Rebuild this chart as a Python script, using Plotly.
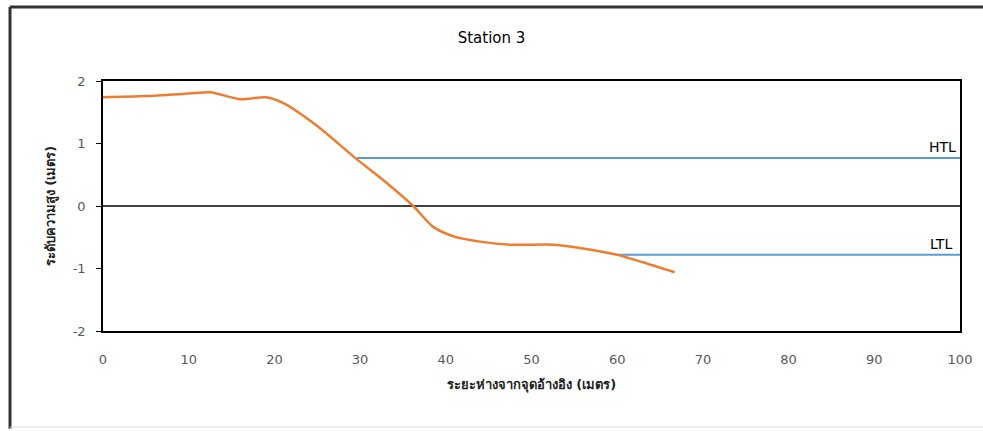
import plotly.graph_objects as go

# Beach profile, Station 3
distance = [0, 5, 10, 12.5, 16, 19, 21, 25, 29.6, 33, 36.2, 38.5, 41, 44, 47.5, 52.7, 56, 60, 63, 66.7]
elevation = [1.74, 1.76, 1.80, 1.82, 1.71, 1.74, 1.65, 1.28, 0.75, 0.38, 0.0, -0.33, -0.49, -0.57, -0.62, -0.62, -0.68, -0.78, -0.90, -1.06]

# Tide levels
htl_x = [29.6, 100]
htl_y = [0.77, 0.77]
ltl_x = [60, 100]
ltl_y = [-0.78, -0.78]

x_ticks = list(range(0, 101, 10))
y_ticks = [-2, -1, 0, 1, 2]
y_tick_text = ["-2", "-1", "0", "1", "2"]

FONT = "Tahoma, 'DejaVu Sans', 'Noto Sans', sans-serif"

fig = go.Figure()
fig.add_trace(go.Scatter(x=[0, 100], y=[0, 0], mode="lines",
                         line=dict(color="black", width=1.5), hoverinfo="skip", showlegend=False))
fig.add_trace(go.Scatter(x=htl_x, y=htl_y, mode="lines",
                         line=dict(color="#5B9BD5", width=2), showlegend=False))
fig.add_trace(go.Scatter(x=ltl_x, y=ltl_y, mode="lines",
                         line=dict(color="#5B9BD5", width=2), showlegend=False))
fig.add_trace(go.Scatter(x=distance, y=elevation, mode="lines",
                         line=dict(color="#ED7D31", width=2.5, shape="spline", smoothing=0.7),
                         showlegend=False))

fig.add_annotation(x=100, y=htl_y[0], text="HTL", showarrow=False, xanchor="right",
                   yanchor="bottom", xshift=-2, yshift=1, font=dict(size=14, color="black", family=FONT))
fig.add_annotation(x=100, y=ltl_y[0], text="LTL", showarrow=False, xanchor="right",
                   yanchor="bottom", xshift=-6, yshift=1, font=dict(size=14, color="black", family=FONT))

fig.update_layout(
    width=983, height=431,
    margin=dict(l=103, r=23, t=81, b=100),
    paper_bgcolor="white", plot_bgcolor="white",
    font=dict(family=FONT, color="#595959", size=13),
    title=dict(text="Station 3", x=0.5, xanchor="center", y=1 - 38 / 431, yanchor="middle",
               font=dict(size=15, color="black", family=FONT)),
    xaxis=dict(range=[0, 100], tickvals=x_ticks, showgrid=False, zeroline=False,
               showline=True, linecolor="black", linewidth=1.5, mirror=True, ticks="",
               ticklabelstandoff=16,
               title=dict(text="<b>ระยะห่างจากจุดอ้างอิง (เมตร)</b>", standoff=14,
                          font=dict(size=13, color="#222222", family=FONT))),
    yaxis=dict(range=[-2, 2], tickvals=y_ticks, ticktext=y_tick_text, showgrid=False, zeroline=False,
               showline=True, linecolor="black", linewidth=1.5, mirror=True,
               ticks="outside", ticklen=5, tickcolor="black", ticklabelstandoff=8,
               title=dict(text="<b>ระดับความสูง (เมตร)</b>", standoff=14,
                          font=dict(size=13, color="#222222", family=FONT))),
    shapes=[
        dict(type="line", xref="paper", yref="paper", x0=-0.1085, x1=1.05, y0=1.296, y1=1.296,
             line=dict(color="#333333", width=3)),
        dict(type="line", xref="paper", yref="paper", x0=-0.1085, x1=-0.1085, y0=-0.39, y1=1.296,
             line=dict(color="#333333", width=3)),
        dict(type="line", xref="paper", yref="paper", x0=-0.1085, x1=1.05, y0=-0.384, y1=-0.384,
             line=dict(color="#DDDDDD", width=1)),
    ],
)

fig.write_html("out.html")
